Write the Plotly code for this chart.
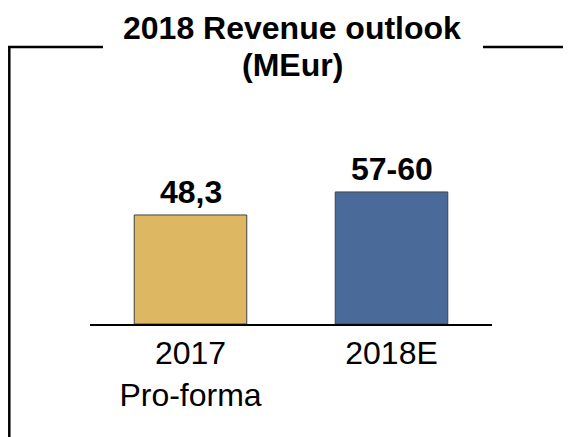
import plotly.graph_objects as go

# chart data
categories = ["2017<br>Pro-forma", "2018E"]
revenue = [48.3, 58.5]  # 2018E drawn at the midpoint of the 57-60 range
value_labels = ["48,3", "57-60"]
bar_colors = ["#DEB763", "#4A6A9A"]
title_lines = ["2018 Revenue outlook", "(MEur)"]

FONT = "Liberation Sans, Arial"

# page body adds an 8px offset, so the figure is drawn 8px in from the corner
W, H = 563, 429
L, R, T, B = 82, 79, 88, 113


def px_x(px):
    return (px - L) / (W - L - R)


def px_y(py):
    return (H - B - py) / (H - T - B)


fig = go.Figure(
    go.Bar(
        x=categories,
        y=revenue,
        marker=dict(color=bar_colors, line=dict(color="#404040", width=1)),
        width=0.56,
        hoverinfo="skip",
    )
)

for cat, val, lab in zip(categories, revenue, value_labels):
    fig.add_annotation(
        x=cat, y=val, text=f"<b>{lab}</b>", showarrow=False,
        yanchor="bottom", yshift=3,
        font=dict(family=FONT, size=32, color="black"),
    )

frame = dict(color="black", width=2.5)
fig.add_shape(type="line", xref="paper", yref="paper",
              x0=px_x(1.3), x1=px_x(1.3), y0=px_y(39), y1=px_y(440), line=frame)
fig.add_shape(type="line", xref="paper", yref="paper",
              x0=px_x(0), x1=px_x(95), y0=px_y(39), y1=px_y(39), line=frame)
fig.add_shape(type="line", xref="paper", yref="paper",
              x0=px_x(475), x1=px_x(570), y0=px_y(39), y1=px_y(39), line=frame)

for line, top in zip(title_lines, [0, 37]):
    fig.add_annotation(
        text=f"<b>{line}</b>",
        xref="paper", yref="paper", x=px_x(284), y=px_y(top),
        xanchor="center", yanchor="top", showarrow=False,
        font=dict(family=FONT, size=32, color="black"),
    )

fig.update_layout(
    width=W, height=H,
    margin=dict(l=L, r=R, t=T, b=B, pad=0),
    paper_bgcolor="white", plot_bgcolor="white",
    showlegend=False,
    xaxis=dict(
        showline=True, linecolor="black", linewidth=2,
        showgrid=False, ticks="", range=[-0.5, 1.5],
        tickfont=dict(family=FONT, size=32, color="black"),
    ),
    yaxis=dict(visible=False, range=[0, 101]),
)

fig.write_html("out.html")
